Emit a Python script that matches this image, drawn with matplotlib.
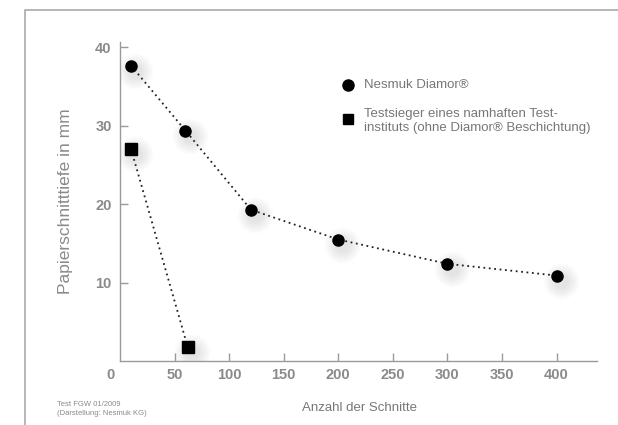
import matplotlib
matplotlib.use("Agg")
import matplotlib.pyplot as plt
import matplotlib.transforms as mtransforms
from matplotlib.lines import Line2D

plt.rcParams["font.family"] = ["Liberation Sans", "DejaVu Sans"]

# Nesmuk Diamor
diamor_x = [10, 60, 120, 200, 300, 400]
diamor_y = [37.7, 29.4, 19.3, 15.5, 12.4, 10.9]

# Testsieger ohne Beschichtung
test_x = [10, 62]
test_y = [27.1, 1.8]

x_ticks = [50, 100, 150, 200, 250, 300, 350, 400]
y_ticks = [10, 20, 30, 40]

label_grey = "#8a8a8a"
axis_grey = "#9a9a9a"

fig = plt.figure(figsize=(6.18, 4.25), dpi=100)
ax = fig.add_axes([120 / 618, 1 - 361 / 425, 477 / 618, 319 / 425])

# faint soft shadows behind the markers
tr = mtransforms.offset_copy(ax.transData, fig=fig, x=3, y=-4, units="points")
for s in range(26, 8, -2):
    ax.plot(diamor_x, diamor_y, "o", ms=s, color="k", alpha=0.012, mec="none", transform=tr)
    ax.plot(test_x, test_y, "o", ms=s, color="k", alpha=0.010, mec="none", transform=tr)

ax.plot(diamor_x, diamor_y, color="#222222", linestyle=(0, (1, 2)), linewidth=1.3,
        marker="o", markersize=8, markerfacecolor="black", markeredgecolor="black", zorder=3)
ax.plot(test_x, test_y, color="#222222", linestyle=(0, (1, 2)), linewidth=1.3,
        marker="s", markersize=8, markerfacecolor="black", markeredgecolor="black", zorder=3)

ax.set_xlim(0, 437)
ax.set_ylim(0, 40.7)

for side in ["top", "right"]:
    ax.spines[side].set_visible(False)
for side in ["left", "bottom"]:
    ax.spines[side].set_color(axis_grey)
    ax.spines[side].set_linewidth(1.0)

ax.set_xticks(x_ticks)
ax.set_yticks(y_ticks)
ax.tick_params(direction="in", length=6, width=1, color=axis_grey,
               labelcolor=label_grey, labelsize=10.5)
ax.tick_params(axis="x", pad=5)
ax.tick_params(axis="y", pad=6)
for lab in ax.get_xticklabels() + ax.get_yticklabels():
    lab.set_fontweight("bold")
zero_tr = mtransforms.offset_copy(ax.transData, fig=fig, x=0, y=-5, units="points")
ax.text(-9, 0, "0", ha="center", va="top", fontsize=10.5, fontweight="bold",
        color=label_grey, clip_on=False, transform=zero_tr)

ax.set_ylabel("Papierschnitttiefe in mm", fontsize=12.5, color=label_grey, labelpad=16)
fig.text(360 / 618, 1 - 408 / 425, "Anzahl der Schnitte", ha="center", va="center",
         fontsize=9.5, color="#777777")
fig.text(57 / 618, 1 - 409 / 425, "Test FGW 01/2009\n(Darstellung: Nesmuk KG)",
         ha="left", va="center", fontsize=5.5, color="#8a8a8a", linespacing=1.3)

# legend
fig.add_artist(Line2D([348 / 618], [1 - 85 / 425], marker="o", ms=8, color="black",
                      linestyle="none", transform=fig.transFigure))
fig.add_artist(Line2D([348 / 618], [1 - 119 / 425], marker="s", ms=7.5, color="black",
                      linestyle="none", transform=fig.transFigure))
fig.text(364 / 618, 1 - 85 / 425, "Nesmuk Diamor\u00ae", ha="left", va="center",
         fontsize=9.5, color="#777777")
fig.text(364 / 618, 1 - 121 / 425,
         "Testsieger eines namhaften Test-\ninstituts (ohne Diamor\u00ae Beschichtung)",
         ha="left", va="center", fontsize=9.5, color="#777777", linespacing=1.25)

# page frame
fig.add_artist(Line2D([25 / 618, 25 / 618, 1.0], [0, 1 - 10 / 425, 1 - 10 / 425],
                      color="#aaaaaa", linewidth=1.2, transform=fig.transFigure))

fig.savefig("out.png", dpi=100)
